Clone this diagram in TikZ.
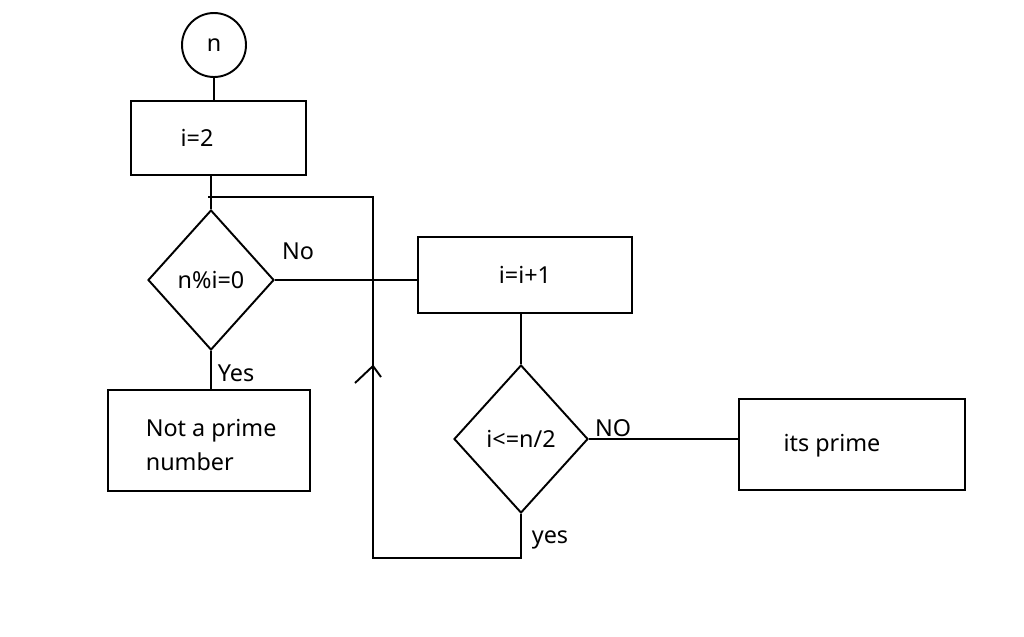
\documentclass[tikz,border=0pt]{standalone}
\usepackage{fontspec}
\setmainfont{Noto Sans}
\usetikzlibrary{shapes.geometric}
\begin{document}
\begin{tikzpicture}[x=0.02cm,y=-0.02cm,line width=1.1pt,
  font=\fontsize{13.3}{16}\selectfont,
  box/.style={draw,rectangle,inner sep=0pt},
  test/.style={draw,diamond,inner sep=0pt}]
\useasboundingbox (0,0) rectangle (1024,636);
% shapes
\node[draw,circle,minimum size=1.28cm,inner sep=0pt] (start) at (214,45) {n};
\node[box,minimum width=3.5cm,minimum height=1.48cm] (init) at (218.5,138) {};
\node[test,minimum width=2.52cm,minimum height=2.8cm] (test1) at (211,280) {n\%i=0};
\node[box,minimum width=4.04cm,minimum height=2.02cm] (notprime) at (209,440.5) {};
\node[box,minimum width=4.28cm,minimum height=1.52cm] (incr) at (525,275) {i=i+1};
\node[test,minimum width=2.68cm,minimum height=2.96cm] (test2) at (521,439) {i<=n/2};
\node[box,minimum width=4.52cm,minimum height=1.82cm] (prime) at (852,444.5) {};
% texts
\node (initlbl) at (197,138) {i=2};
\node[anchor=west,align=left,font=\fontsize{13.3}{19}\selectfont] (notlbl) at (139,445) {Not a prime\\number};
\node (primelbl) at (832,446) {its prime};
\node (no1) at (298,251) {No};
\node (yes1) at (236,373) {Yes};
\node (no2) at (613,428) {NO};
\node (yes2) at (550,540) {yes};
% connectors
\coordinate (join) at (208,197);
\coordinate (c1) at (373,197);
\coordinate (c2) at (373,558);
\draw (start) -- (start |- init.north);
\draw (test1.north) -- (test1.north |- init.south);
\draw (join) -- (c1) -- (c2) -- (c2 -| test2.south) -- (test2.south);
\draw (test1.east) -- (test1.east -| incr.west);
\draw (test2.north) -- (test2.north |- incr.south);
\draw (test2.east) -- (test2.east -| prime.west);
\draw (test1.south) -- (test1.south |- notprime.north);
\draw (355,383) -- (373,366) -- (381,377);
\end{tikzpicture}
\end{document}
